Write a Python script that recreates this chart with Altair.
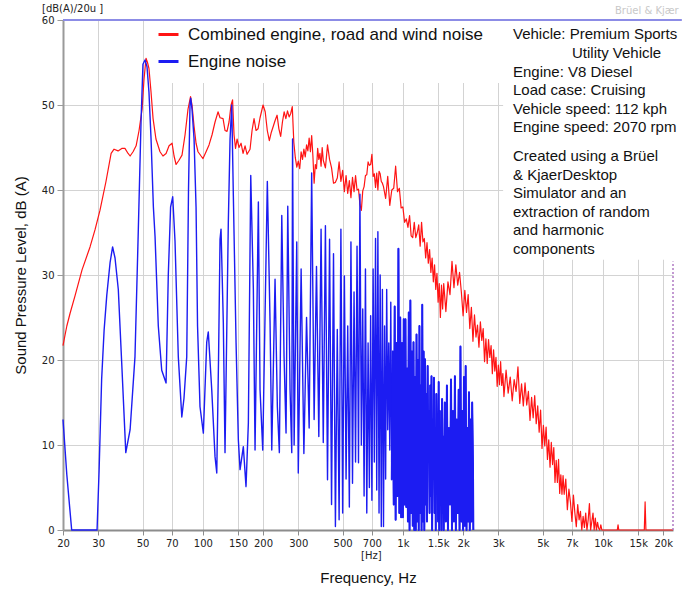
import altair as alt
import pandas as pd

# ---------------- series names / colours ----------------
SERIES = ["Combined engine, road and wind noise", "Engine noise"]
SERIES_COLORS = ["#ff1414", "#1c1cf2"]

X_TICKS = [20, 30, 50, 70, 100, 150, 200, 300, 500, 700, 1000, 1500, 2000,
           3000, 5000, 7000, 10000, 15000, 20000]
Y_TICKS = [0, 10, 20, 30, 40, 50, 60]

INFO_HEAD = ["Vehicle: Premium Sports", "Utility Vehicle"]
INFO_SPECS = ["Engine: V8 Diesel", "Load case: Cruising",
              "Vehicle speed: 112 kph", "Engine speed: 2070 rpm"]
INFO_NOTE = ["Created using a Brüel", "& KjaerDesktop", "Simulator and an",
             "extraction of random", "and harmonic", "components"]

# ---------------- combined (red) spectrum ----------------
RED_LOW_HZ = [20.0, 20.5, 20.9, 21.7, 23.0, 24.9, 27.3, 28.9, 30.6, 32.8,
              34.8, 36.0, 37.7, 39.5, 40.8, 42.3, 43.3, 44.8, 46.4, 48.0,
              49.7, 50.8, 52.0, 52.9, 53.8, 55.1, 56.4, 58.3, 61.1, 63.2,
              65.5, 67.8, 70.2, 71.8, 73.5, 76.0, 78.7, 81.5, 84.3, 86.8,
              88.3, 90.4, 92.5, 94.6, 98.0, 100.2, 103.8, 107.4, 111.2, 115.1,
              119.1, 121.9, 126.2, 129.1, 132.1, 135.2, 138.4, 140.8, 143.2, 145.7,
              148.3, 151.7, 155.3, 158.9, 162.6, 166.4, 172.2, 176.2, 180.3, 184.5,
              188.8, 193.2, 197.7]
RED_LOW_DB = [21.7, 23.0, 24.0, 25.5, 27.6, 30.6, 33.3, 35.3, 37.6, 41.0,
              44.3, 44.8, 44.6, 44.9, 44.9, 44.3, 44.0, 44.5, 45.2, 47.0,
              49.5, 53.0, 55.5, 55.0, 54.3, 51.5, 48.4, 46.0, 44.5, 44.0,
              44.3, 45.2, 45.5, 44.0, 43.0, 43.5, 44.1, 46.5, 49.5, 51.0,
              50.0, 47.5, 45.5, 44.5, 44.0, 43.7, 44.5, 45.3, 46.5, 48.0,
              49.2, 48.5, 48.4, 47.0, 46.9, 48.0, 50.0, 50.6, 46.5, 44.9,
              46.0, 45.0, 45.5, 44.3, 45.2, 44.2, 44.8, 47.0, 48.4, 47.0,
              47.2, 48.5, 49.5]

RED_HZ_200 = [200, 205, 210, 215, 220, 225, 230, 235, 240, 245, 250, 255, 260, 265,
              270, 275, 280, 285, 290, 295, 300, 305, 310, 315, 320, 325, 330, 335,
              340, 345, 350, 355, 360, 365, 370, 375, 380, 385, 390, 395]
RED_DB_200 = [50.0, 49.2, 47.0, 45.8, 46.8, 47.5, 48.2, 48.8, 47.2, 46.3,
              48.0, 49.2, 48.4, 49.3, 48.6, 49.0, 49.8, 45.6, 43.8, 42.7,
              43.4, 42.5, 44.5, 43.6, 44.8, 43.9, 45.3, 44.6, 46.1, 44.5,
              46.4, 44.0, 40.8, 43.0, 42.5, 44.9, 43.6, 44.3, 42.8, 45.0]
RED_HZ_400 = [400, 410, 420, 430, 440, 450, 460, 470, 480, 490, 500, 510, 520, 530,
              540, 550, 560, 570, 580, 590, 600, 610, 620, 630, 640, 650, 660, 670,
              680, 690, 700, 710, 720, 730, 740, 750, 760, 770, 780, 790]
RED_DB_400 = [43.5, 42.6, 45.3, 43.6, 42.6, 40.8, 40.9, 41.4, 43.3, 41.0,
              42.3, 39.8, 41.7, 39.6, 41.1, 39.1, 41.5, 39.8, 41.7, 40.0,
              40.1, 38.3, 37.6, 39.9, 40.4, 41.7, 41.8, 43.3, 42.9, 43.0,
              44.2, 41.6, 41.9, 40.3, 42.0, 40.0, 42.2, 41.9, 41.0, 40.8]
RED_HZ_800 = [800, 820, 840, 860, 880, 900, 920, 940, 960, 980, 1000, 1020, 1040,
              1060, 1080, 1100, 1120, 1140, 1160, 1180, 1200, 1220, 1240, 1260,
              1280, 1300, 1320, 1340, 1360, 1380, 1400, 1420, 1440, 1460, 1480,
              1500, 1520, 1540, 1560, 1580]
RED_DB_800 = [40.4, 39.0, 41.6, 38.2, 40.0, 40.2, 42.8, 39.8, 40.2, 37.9,
              38.0, 36.2, 36.6, 35.6, 37.0, 34.6, 34.4, 36.2, 34.4, 35.0,
              35.9, 33.4, 36.2, 33.9, 34.3, 32.0, 33.8, 31.4, 33.0, 30.3,
              32.0, 29.2, 31.2, 28.3, 30.2, 26.8, 29.0, 25.0, 28.8, 26.0]
RED_HZ_1600 = [1600, 1640, 1680, 1720, 1760, 1800, 1840, 1880, 1920, 1960, 2000,
               2040, 2080, 2120, 2160, 2200, 2240, 2280, 2320, 2360, 2400, 2440,
               2480, 2520, 2560, 2600, 2640, 2680, 2720, 2760, 2800, 2840, 2880,
               2920, 2960, 3000, 3040, 3080, 3120, 3160]
RED_DB_1600 = [29.0, 25.7, 29.2, 27.7, 31.6, 28.5, 31.2, 28.8, 30.3, 28.0,
               25.2, 28.2, 25.6, 27.7, 23.7, 26.2, 22.2, 25.3, 22.7, 24.1,
               21.5, 24.5, 22.3, 23.7, 19.8, 22.5, 19.6, 22.4, 20.3, 21.7,
               18.4, 21.2, 18.7, 20.3, 16.9, 19.4, 17.1, 19.8, 17.0, 18.4]
RED_HZ_3200 = [3200, 3280, 3360, 3440, 3520, 3600, 3680, 3760, 3840, 3920, 4000,
               4080, 4160, 4240, 4320, 4400, 4480, 4560, 4640, 4720, 4800, 4880,
               4960, 5040, 5120, 5200, 5280, 5360, 5440, 5520, 5600, 5680, 5760,
               5840, 5920, 6000, 6080, 6160, 6240, 6320]
RED_DB_3200 = [15.7, 18.8, 16.1, 18.0, 15.2, 17.7, 16.3, 19.2, 14.9, 17.2,
               14.6, 17.3, 14.7, 16.3, 12.9, 15.6, 13.2, 15.8, 12.5, 14.6,
               11.5, 14.1, 9.6, 12.3, 9.9, 12.1, 8.3, 10.6, 7.4, 10.3,
               7.7, 9.7, 5.6, 8.2, 5.6, 8.3, 4.3, 6.5, 4.2, 6.4]
RED_HZ_6400 = [6400, 6520, 6640, 6760, 6880, 7000, 7120, 7240, 7360, 7480, 7600,
               7720, 7840, 7960, 8080, 8200, 8320, 8440, 8560, 8680, 8800, 8920,
               9040, 9160, 9280, 9400, 9520, 9640, 9760, 9880, 10000]
RED_DB_6400 = [4.2, 6.0, 2.4, 4.8, 3.3, 1.0, 4.1, 2.0, 0.4, 3.0, 1.2, 2.2, 0.0,
               1.6, 0.3, 2.0, 0.0, 1.2, 3.1, 0.0, 1.0, 2.0, 0.0, 1.4, 0.0, 0.9,
               0.2, 0.0, 0.6, 0.0, 0.0]
RED_TAIL_HZ = [10500, 11800, 11900, 12000, 16100, 16250, 16400, 22400]
RED_TAIL_DB = [0.0, 0.0, 0.6, 0.0, 0.0, 3.3, 0.0, 0.0]

# ---------------- engine (blue) spectrum ----------------
BLUE_LOW_HZ = [20.0, 20.9, 22.1, 29.6, 30.3, 31.2, 32.1, 33.1, 34.4, 35.4,
               36.4, 37.8, 39.3, 41.2, 43.3, 45.8, 47.6, 49.1, 50.2, 51.4,
               52.6, 53.8, 55.1, 56.6, 57.7, 59.9, 62.3, 65.5, 67.2, 69.0,
               70.7, 72.6, 75.4, 78.5, 80.5, 83.1, 84.8, 86.3, 87.0, 88.3,
               90.4, 92.5, 94.1, 96.8, 100.6, 104.6, 106.5, 110.8, 115.1, 117.4,
               119.8, 121.9, 123.3, 126.6, 129.1, 134.1, 136.8, 139.5, 142.1, 146.6,
               150.5, 153.5, 159.4, 164.4, 168.9, 173.6, 178.9, 182.4, 189.5, 193.2,
               199.3, 210.1, 216.8, 221.1, 229.6, 235.8, 241.3, 248.1, 254.7, 260.6,
               265.8, 272.9, 278.3, 280.9, 286.0, 294.8]
BLUE_LOW_DB = [13.0, 6.5, 0.0, 0.0, 7.0, 17.7, 23.5, 27.6, 31.5, 33.3,
               32.0, 28.3, 19.7, 9.1, 11.8, 20.4, 35.4, 48.0, 54.8, 55.3,
               54.5, 51.5, 46.0, 38.0, 34.5, 24.0, 18.8, 17.3, 30.0, 38.0,
               39.2, 34.0, 20.4, 13.3, 15.5, 20.4, 40.0, 50.2, 50.8, 49.5,
               46.0, 38.0, 24.0, 14.5, 11.4, 22.1, 23.3, 16.5, 8.6, 6.7,
               20.0, 34.2, 35.4, 24.4, 9.1, 36.2, 46.0, 50.0, 39.3, 22.0,
               10.6, 7.1, 9.8, 5.1, 12.6, 41.7, 28.3, 9.4, 38.6, 16.5,
               9.4, 41.0, 24.4, 9.4, 29.5, 14.5, 9.1, 37.0, 20.4, 11.4,
               38.1, 16.5, 9.1, 46.0, 10.0, 33.9]

BLUE_MID_HZ = [300, 310, 320, 330, 340, 350, 360, 370, 380, 390,
               400, 410, 420, 430, 440, 450, 460, 470, 480, 490,
               500, 510, 520, 530, 540, 550, 560, 570, 580, 590,
               600, 610, 620, 630, 640, 650, 660, 670, 680, 690,
               700, 710, 720, 730, 740, 750, 760, 770, 780, 790,
               800, 810, 820, 830, 840, 850, 860, 870, 880, 890,
               900, 910, 920, 930, 940, 950, 960, 970, 980, 990,
               1000, 1010, 1020, 1030, 1040, 1050, 1060, 1070, 1080, 1090,
               1100, 1110, 1120, 1130, 1140, 1150, 1160, 1170, 1180, 1190,
               1200, 1210, 1220, 1230, 1240, 1250, 1260, 1270, 1280, 1290,
               1300, 1310, 1320, 1330, 1340, 1350, 1360, 1370, 1380, 1390,
               1400, 1410, 1420, 1430, 1440, 1450, 1460, 1470, 1480, 1490,
               1500, 1510, 1520, 1530, 1540, 1550, 1560, 1570, 1580, 1590,
               1600]
BLUE_MID_DB = [6.7, 30.7, 9.0, 25.0, 12.0, 42.0, 13.0, 31.0, 11.0, 35.4,
               10.3, 35.8, 5.9, 34.2, 3.0, 32.5, 0.4, 23.6, 1.2, 35.4,
               2.0, 29.9, 6.0, 24.0, 2.7, 33.9, 5.5, 28.0, 8.0, 33.4,
               7.9, 39.5, 10.0, 26.0, 4.0, 30.7, 2.0, 22.0, 5.0, 25.2,
               3.5, 30.7, 8.0, 34.3, 4.7, 35.1, 2.0, 30.0, 0.4, 28.3,
               0.4, 24.0, 6.0, 28.3, 11.8, 22.0, 9.4, 26.8, 5.9, 21.0,
               3.0, 26.3, 1.2, 22.0, 4.0, 33.1, 2.0, 25.0, 1.5, 22.0,
               1.5, 24.8, 3.0, 24.8, 2.7, 19.0, 1.0, 25.6, 0.0, 27.0,
               2.0, 21.0, 0.5, 22.1, 0.0, 18.0, 0.0, 23.0, 1.0, 20.0,
               0.0, 24.0, 2.0, 17.0, 0.0, 26.5, 1.0, 21.0, 0.0, 20.1,
               3.0, 16.0, 1.0, 19.3, 8.0, 14.0, 2.0, 17.0, 4.0, 18.1,
               0.0, 13.0, 6.0, 17.9, 2.0, 12.0, 0.0, 16.0, 9.0, 11.0,
               1.0, 17.4, 0.0, 14.0, 3.0, 12.0, 0.0, 15.4, 2.0, 11.0,
               0.0]
BLUE_HIGH_HZ = [1620, 1640, 1660, 1680, 1700, 1720, 1740, 1760, 1780, 1800,
                1820, 1840, 1860, 1880, 1900, 1920, 1940, 1960, 1980, 2000,
                2020, 2040, 2060, 2080, 2100, 2120, 2140, 2160, 2180, 2200,
                2220, 2240, 2250]
BLUE_HIGH_DB = [15.0, 1.0, 17.0, 0.0, 12.0, 3.0, 17.7, 0.0, 14.0, 1.0,
                18.1, 0.0, 13.0, 2.0, 16.5, 0.0, 21.6, 1.0, 14.0, 0.0,
                18.0, 0.5, 19.3, 0.0, 12.0, 1.0, 16.2, 0.0, 13.0, 1.0,
                15.0, 7.9, 0.0]

DENSE_FROM_HZ = 880  # above this the harmonics merge into a solid band


def series_frame(hz_parts, db_parts, name):
    hz, db = [], []
    for h, d in zip(hz_parts, db_parts):
        assert len(h) == len(d), (name, len(h), len(d))
        hz += h
        db += d
    return pd.DataFrame({"freq": hz, "spl": db, "series": name})


red_df = series_frame(
    [RED_LOW_HZ, RED_HZ_200, RED_HZ_400, RED_HZ_800, RED_HZ_1600, RED_HZ_3200,
     RED_HZ_6400, RED_TAIL_HZ],
    [RED_LOW_DB, RED_DB_200, RED_DB_400, RED_DB_800, RED_DB_1600, RED_DB_3200,
     RED_DB_6400, RED_TAIL_DB], SERIES[0])
blue_df = series_frame([BLUE_LOW_HZ, BLUE_MID_HZ, BLUE_HIGH_HZ],
                       [BLUE_LOW_DB, BLUE_MID_DB, BLUE_HIGH_DB], SERIES[1])
blue_dense_df = blue_df[blue_df["freq"] >= DENSE_FROM_HZ]

# ---------------- scales / axes ----------------
x_scale = alt.Scale(type="log", domain=[20, 22400], nice=False)
y_scale = alt.Scale(domain=[0, 60], nice=False)

x_axis = alt.Axis(
    values=X_TICKS,
    labelExpr="datum.value >= 1000 ? (datum.value / 1000) + 'k' : '' + datum.value",
    title="Frequency, Hz", grid=True, gridColor="#d3d3d3", gridWidth=1,
    domainColor="#8c8c8c", domainWidth=2, tickColor="#8c8c8c", tickSize=5,
    labelFont="DejaVu Sans", labelFontSize=10, labelColor="#222222",
    labelPadding=3, labelOverlap=False, labelFlush=False,
    titleFont="Liberation Sans", titleFontSize=15, titleFontWeight="normal",
    titleColor="#111111", titlePadding=22)
y_axis = alt.Axis(
    values=Y_TICKS, format="d",
    title="Sound Pressure Level, dB (A)", grid=True, gridColor="#d3d3d3",
    gridWidth=1, domainColor="#9a9a9a", domainWidth=2, tickColor="#9a9a9a",
    tickSize=6, labelFont="DejaVu Sans", labelFontSize=10, labelColor="#222222",
    labelPadding=3, labelFlush=False,
    titleFont="Liberation Sans", titleFontSize=15, titleFontWeight="normal",
    titleColor="#111111", titlePadding=13)

color_scale = alt.Scale(domain=SERIES, range=SERIES_COLORS)
legend = alt.Legend(
    title=None, orient="none", legendX=94, legendY=3, direction="vertical",
    symbolType="stroke", symbolStrokeWidth=3, symbolSize=400,
    labelFont="Liberation Sans", labelFontSize=17, labelColor="#111111",
    labelLimit=600, rowPadding=7, labelOffset=8, padding=0)


def spectrum(df, width):
    return alt.Chart(df).mark_line(strokeWidth=width, strokeJoin="round").encode(
        x=alt.X("freq:Q", scale=x_scale, axis=x_axis),
        y=alt.Y("spl:Q", scale=y_scale, axis=y_axis),
        color=alt.Color("series:N", scale=color_scale, legend=legend),
    )


one = pd.DataFrame({"n": [0]})

# white panels behind the legend and the notes (hide the grid there)
legend_panel = alt.Chart(one).mark_rect(color="white").encode(
    x=alt.datum(54.5), x2=alt.datum(3170), y=alt.datum(60), y2=alt.datum(52.6))
note_panel = alt.Chart(one).mark_rect(color="white").encode(
    x=alt.datum(3170), x2=alt.datum(25500), y=alt.datum(60), y2=alt.datum(31.8))

top_rule = alt.Chart(one).mark_rule(color="#8c8ce6", strokeWidth=2).encode(
    x=alt.datum(20), x2=alt.datum(24800), y=alt.datum(60))
end_rule = alt.Chart(one).mark_rule(color="#b07ac4", strokeWidth=1.5,
                                    strokeDash=[2, 2]).encode(
    x=alt.datum(22400), y=alt.datum(0), y2=alt.datum(31.6))


def label(text, x, y, size=15, color="#111111", font="Liberation Sans"):
    return alt.Chart(one).mark_text(
        text=text, align="left", baseline="middle", font=font, fontSize=size,
        color=color).encode(x=alt.value(x), y=alt.value(y))


texts = [
    label("[dB(A)/20u ]", -21, -11, size=10, color="#222222", font="DejaVu Sans"),
    label("Brüel & Kjær", 552, -9, size=10, color="#c8c8c8", font="DejaVu Sans"),
    label("[Hz]", 298, 536, size=10, color="#222222", font="DejaVu Sans"),
    label(INFO_HEAD[0], 450, 14),
    label(INFO_HEAD[1], 509, 33),
]
for i, line in enumerate(INFO_SPECS):
    texts.append(label(line, 450, 51.7 + 18.4 * i))
for i, line in enumerate(INFO_NOTE):
    texts.append(label(line, 450, 136 + 18.5 * i))

chart = alt.layer(
    legend_panel, note_panel,
    spectrum(red_df, 1.2), spectrum(blue_df, 1.4), spectrum(blue_dense_df, 2.0),
    top_rule, end_rule, *texts,
).properties(
    width=610, height=510,
    autosize=alt.AutoSizeParams(type="none"),
    padding={"left": 63, "top": 20, "right": 10, "bottom": 64},
    background="white",
).configure_view(stroke=None)

chart.save("out.html", embed_options={"renderer": "svg", "actions": False})
